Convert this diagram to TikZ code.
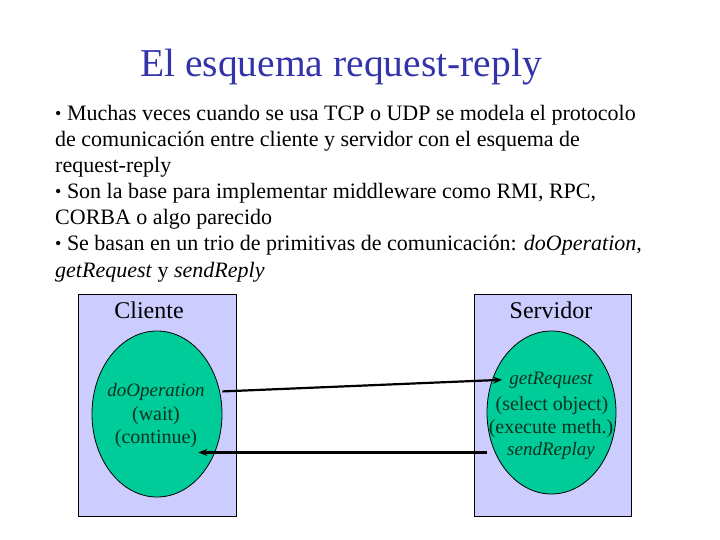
\documentclass[tikz,border=0pt]{standalone}
\usepackage{fontspec}
\setmainfont{Liberation Serif}
\usetikzlibrary{arrows.meta,shapes.geometric}
\definecolor{titleblue}{RGB}{51,51,170}
\definecolor{boxfill}{RGB}{204,204,255}
\definecolor{ellfill}{RGB}{0,204,153}
\definecolor{ink}{RGB}{10,50,30}
\newcommand\smbul{{\fontsize{18}{18}\selectfont\raisebox{1.5pt}{•}}}
\begin{document}
\begin{tikzpicture}[x=1pt,y=-1pt,
  bl/.style={anchor=base west,inner sep=0pt,font=\fontsize{22}{22}\selectfont},
  panel/.style={draw=black,line width=0.8pt,fill=boxfill,inner sep=0pt},
  oval/.style={ellipse,draw=black,line width=0.8pt,fill=ellfill,inner sep=0pt},
  lbl/.style={anchor=base,inner sep=0pt,font=\fontsize{24}{24}\selectfont},
  el/.style={anchor=base,inner sep=1pt,text=ink,font=\fontsize{20}{20}\selectfont},
  eli/.style={anchor=base,inner sep=1pt,text=ink,font=\fontsize{19}{19}\selectfont\itshape},
  arr/.style={line width=2.2pt,-{Stealth[length=9pt,width=7pt]}}]
\useasboundingbox (0,0) rectangle (720,540);
\fill[white] (0,0) rectangle (720,540);
% title
\node[anchor=base,inner sep=0pt,font=\fontsize{39.5}{40}\selectfont,text=titleblue] (title) at (341,77) {El esquema request-reply};
% bullet text
\node[bl] (l1) at (55,121) {\smbul{} Muchas veces cuando se usa TCP o UDP se modela el protocolo};
\node[bl] (l2) at (55,147) {de comunicación entre cliente y servidor con el esquema de};
\node[bl] (l3) at (55,173) {request-reply};
\node[bl] (l4) at (55,199) {\smbul{} Son la base para implementar middleware como RMI, RPC,};
\node[bl] (l5) at (55,225) {CORBA o algo parecido};
\node[bl] (l6) at (55,251) {\smbul{} Se basan en un trio de primitivas de comunicación: \textit{doOperation},};
\node[bl] (l7) at (55,277) {\textit{getRequest} y \textit{sendReply}};
% panels
\node[panel,minimum width=158pt,minimum height=222pt] (cpanel) at (157,405) {};
\node[panel,minimum width=157pt,minimum height=222pt] (spanel) at (552.5,405) {};
\node[lbl] (clabel) at (149,318) {Cliente};
\node[lbl] (slabel) at (551,318) {Servidor};
% ellipses
\node[oval,minimum width=130pt,minimum height=166pt] (cli) at (157,414) {};
\node[oval,minimum width=129pt,minimum height=163pt] (srv) at (551.5,412.5) {};
% client text
\node[eli] (doop) at (156,396) {doOperation};
\node[el] (wait) at (156,420) {(wait)};
\node[el] (cont) at (156,443) {(continue)};
% server text
\node[eli] (getreq) at (551,384) {getRequest};
\node[el] (selobj) at (552,410) {(select object)};
\node[el] (exemeth) at (551,433) {(execute meth.)};
\node[eli] (sendrep) at (551,455) {sendReplay};
% arrows
\draw[arr] (cli.east |- doop) -- ([xshift=-6pt]getreq.west);
\draw[arr] ([yshift=-2pt]srv.west |- sendrep) -- ([yshift=-2pt]sendrep -| cont.east);
\end{tikzpicture}
\end{document}
